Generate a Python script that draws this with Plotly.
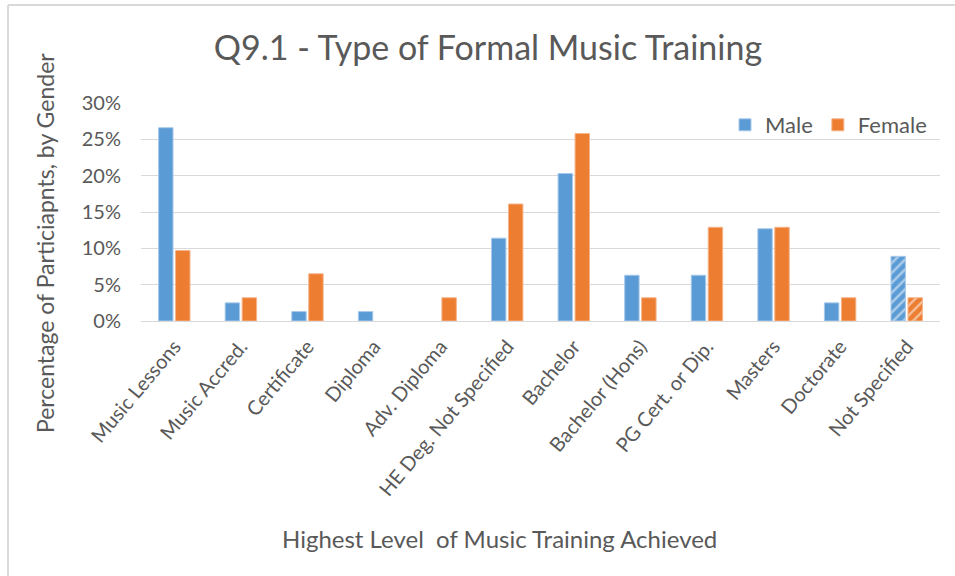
import plotly.graph_objects as go

categorias = [
    "Music Lessons", "Music Accred.", "Certificate", "Diploma", "Adv. Diploma",
    "HE Deg. Not Specified", "Bachelor", "Bachelor (Hons)", "PG Cert. or Dip.",
    "Masters", "Doctorate", "Not Specified",
]
masc = [26.6, 2.5, 1.3, 1.3, 0.0, 11.4, 20.3, 6.3, 6.3, 12.7, 2.5, 8.9]
fem  = [9.7, 3.2, 6.5, 0.0, 3.2, 16.1, 25.8, 3.2, 12.9, 12.9, 3.2, 3.2]
y_ticks = [0, 5, 10, 15, 20, 25, 30]

COLOR_M = "#5B9BD5"
COLOR_F = "#ED7D31"
GREY    = "#595959"
FONT    = "Lato"

W, H = 955, 576
L, R, T, B = 141, 15, 103, 255
pw, ph = W - L - R, H - T - B


def xp(px):
    return (px - L) / pw


def yp(py):
    return (H - B - py) / ph


# hachurado apenas na ultima categoria
hatch = ["" for _ in categorias]
hatch[-1] = "/"


def bar(vals, name, color, edge):
    return go.Bar(
        x=categorias, y=vals, name=name, marker_color=color,
        marker_line_color=edge,
        marker_line_width=[0 if v == 0 else 1 for v in vals],
        marker_pattern=dict(shape=hatch, fgcolor="white", size=7, solidity=0.35, fillmode="overlay"),
    )


fig = go.Figure([
    bar(masc, "Male", COLOR_M, "#A9C9EA"),
    bar(fem, "Female", COLOR_F, "#F5B48A"),
])

borda = dict(color="#D9D9D9", width=2)

fig.update_layout(
    width=W, height=H,
    paper_bgcolor="white", plot_bgcolor="white",
    font=dict(family=FONT, color=GREY),
    margin=dict(l=L, r=R, t=T, b=B),
    barmode="group", bargap=0.49, bargroupgap=0.15,
    title=dict(
        text="Q9.1 - Type of Formal Music Training",
        font=dict(size=34, color=GREY, family=FONT),
        x=488 / W, xanchor="center", y=1 - 48 / H, yanchor="middle",
    ),
    xaxis=dict(
        tickangle=-50, tickfont=dict(size=20, color=GREY),
        showgrid=False, showline=True, linecolor="#D9D9D9", linewidth=1,
        ticks="", ticklen=0, ticklabelstandoff=5,
    ),
    yaxis=dict(
        range=[0, 30], tickmode="array", tickvals=y_ticks,
        ticktext=[f"{v}%" for v in y_ticks],
        tickfont=dict(size=20, color=GREY),
        showgrid=True, gridcolor="#D9D9D9", gridwidth=1,
        zeroline=False, showline=False, ticks="", ticklabelstandoff=19,
    ),
    legend=dict(
        orientation="h", x=xp(932), xanchor="right", y=yp(125), yanchor="middle",
        font=dict(size=22, color=GREY), bgcolor="rgba(0,0,0,0)",
        itemwidth=30, traceorder="normal",
    ),
    showlegend=True,
    annotations=[
        dict(
            text="Percentage of Particiapnts, by Gender",
            x=xp(45), y=yp(243), xref="paper", yref="paper",
            textangle=-90, showarrow=False,
            font=dict(size=23, color=GREY, family=FONT),
            xanchor="center", yanchor="middle",
        ),
        dict(
            text="Highest Level  of Music Training Achieved",
            x=xp(499), y=yp(538), xref="paper", yref="paper",
            showarrow=False, font=dict(size=24, color=GREY, family=FONT),
            xanchor="center", yanchor="middle",
        ),
    ],
    shapes=[
        # so a borda de cima e a da esquerda aparecem no original
        dict(type="line", xref="paper", yref="paper",
             x0=xp(8), x1=xp(960), y0=yp(5), y1=yp(5), line=borda, layer="below"),
        dict(type="line", xref="paper", yref="paper",
             x0=xp(8), x1=xp(8), y0=yp(5), y1=yp(580), line=borda, layer="below"),
    ],
)

fig.write_html(
    "out.html",
    config={"displayModeBar": False},
    post_script="document.body.style.margin='0';",
)
